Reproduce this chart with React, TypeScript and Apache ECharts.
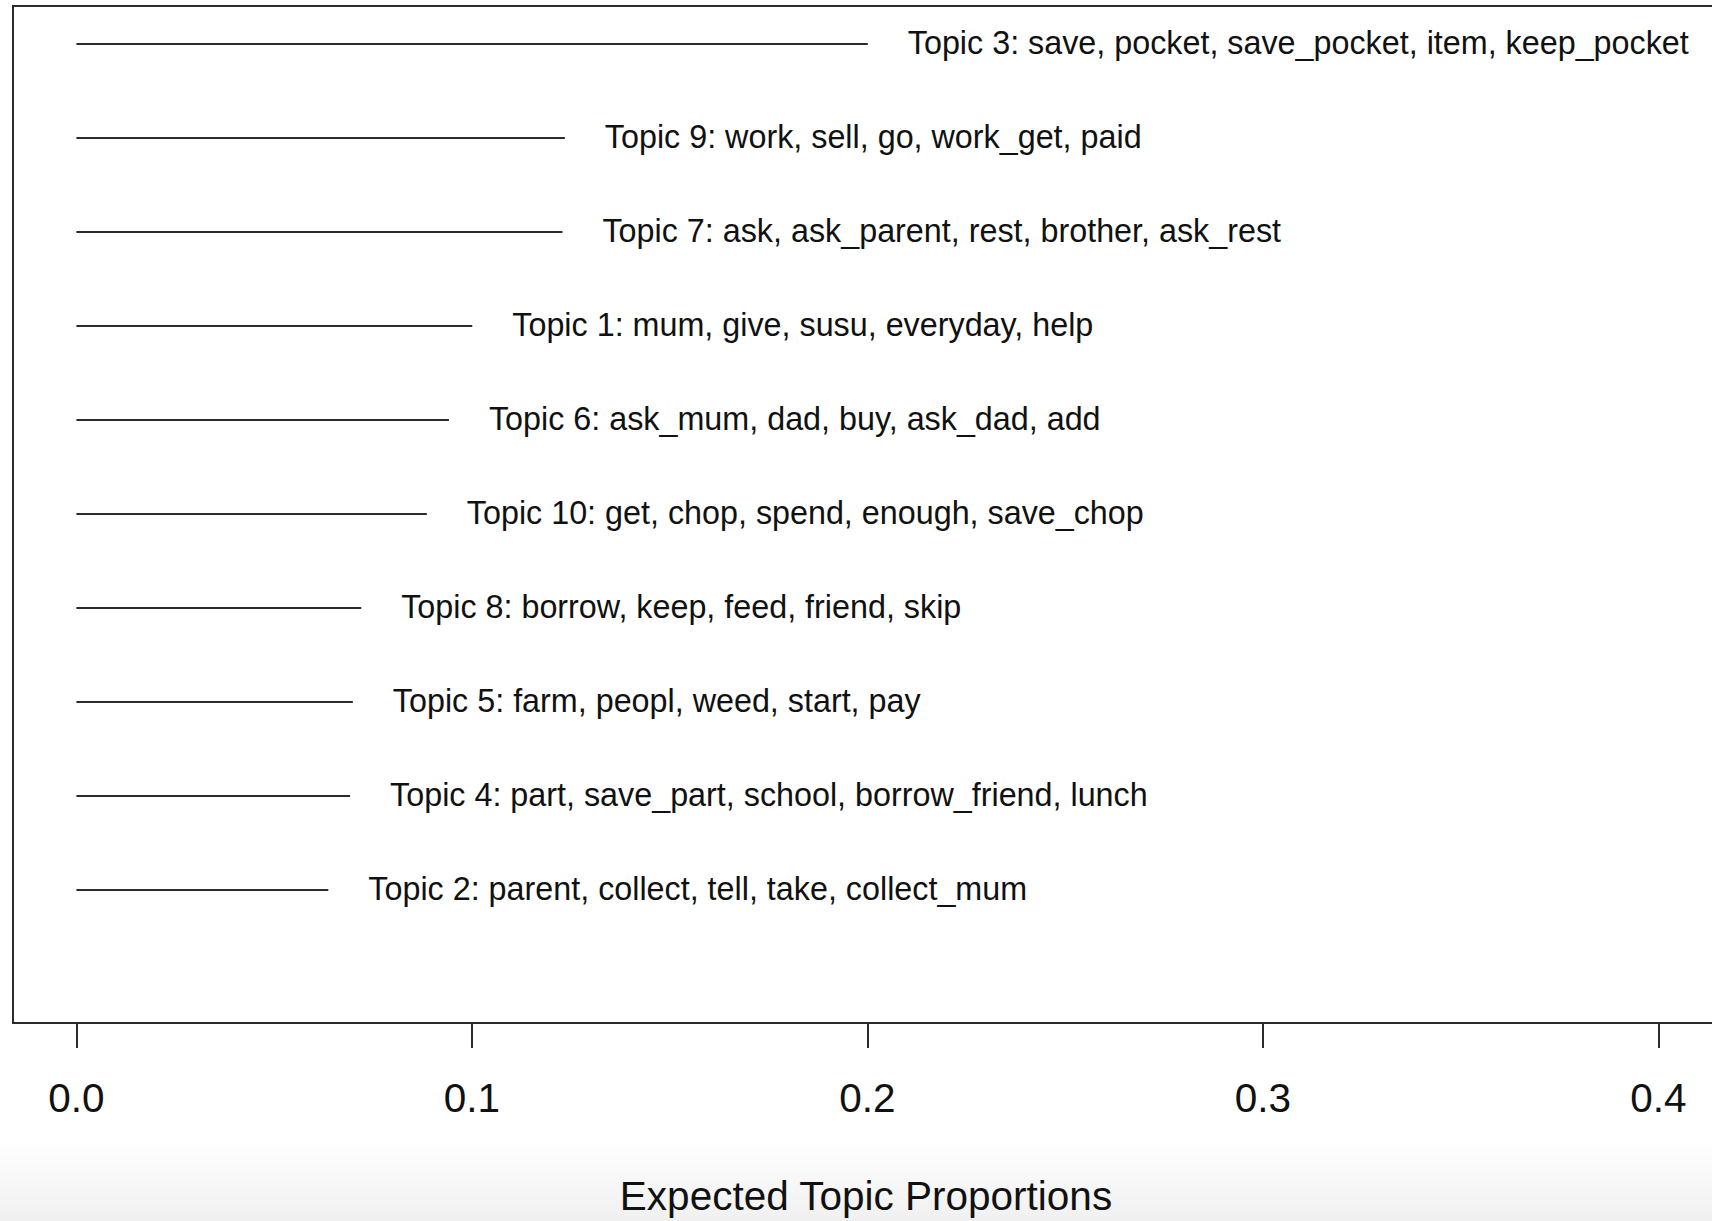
import React, { useEffect, useRef } from "react";
import * as echarts from "echarts";

// Topics ordered top to bottom
const topicLabels: string[] = [
  "Topic 3: save, pocket, save_pocket, item, keep_pocket",
  "Topic 9: work, sell, go, work_get, paid",
  "Topic 7: ask, ask_parent, rest, brother, ask_rest",
  "Topic 1: mum, give, susu, everyday, help",
  "Topic 6: ask_mum, dad, buy, ask_dad, add",
  "Topic 10: get, chop, spend, enough, save_chop",
  "Topic 8: borrow, keep, feed, friend, skip",
  "Topic 5: farm, peopl, weed, start, pay",
  "Topic 4: part, save_part, school, borrow_friend, lunch",
  "Topic 2: parent, collect, tell, take, collect_mum",
];

const proportions: number[] = [
  0.2001, 0.1235, 0.1229, 0.1001, 0.0942, 0.0886, 0.072, 0.0699, 0.0692, 0.0637,
];

const xTicks: number[] = [0, 0.1, 0.2, 0.3, 0.4];
const axisTitle = "Expected Topic Proportions";

const FONT = '"Liberation Sans", Arial, Helvetica, sans-serif';

export default function App() {
  const ref = useRef<HTMLDivElement>(null);

  useEffect(() => {
    if (!ref.current) return;
    const chart = echarts.init(ref.current, undefined, { renderer: "svg" });
    const n = topicLabels.length;
    const data = proportions.map((v, i) => [v, n - i]);

    chart.setOption({
      animation: false,
      backgroundColor: "#ffffff",
      graphic: [
        {
          type: "rect",
          z: -10,
          silent: true,
          shape: { x: 0, y: 1140, width: 1712, height: 81 },
          style: {
            fill: new echarts.graphic.LinearGradient(0, 0, 0, 1, [
              { offset: 0, color: "#ffffff" },
              { offset: 1, color: "#f0f0f0" },
            ]),
          },
        },
        {
          // plot frame (right edge lies outside the picture)
          type: "polyline",
          silent: true,
          z: 5,
          shape: { points: [[1730, 6], [13, 6], [13, 1023], [1730, 1023]] },
          style: { stroke: "#2b2b2b", lineWidth: 2, fill: null },
        },
      ],
      grid: {
        show: false,
        left: 13,
        top: 6,
        right: 0,
        bottom: 198,
      },
      xAxis: {
        type: "value",
        min: -0.01603,
        max: 0.41355,
        splitLine: { show: false },
        axisLine: { show: false, onZero: false },
        axisTick: {
          show: true,
          customValues: xTicks,
          length: 26,
          lineStyle: { color: "#2b2b2b", width: 2 },
        },
        axisLabel: {
          customValues: xTicks,
          formatter: (v: number) => v.toFixed(1),
          fontSize: 40.5,
          fontFamily: FONT,
          color: "#111",
          margin: 55,
        },
        name: axisTitle,
        nameLocation: "middle",
        nameGap: 153,
        nameTextStyle: {
          fontSize: 40.5,
          fontFamily: FONT,
          color: "#111",
          padding: [0, 0, 0, 7],
        },
      },
      yAxis: {
        type: "value",
        min: -0.403,
        max: 10.405,
        show: false,
        splitLine: { show: false },
      },
      series: [
        {
          type: "custom",
          clip: false,
          data,
          renderItem: (params: any, api: any) => {
            const v = api.value(0);
            const r = api.value(1);
            const p0 = api.coord([0, r]);
            const p1 = api.coord([v, r]);
            return {
              type: "group",
              children: [
                {
                  type: "line",
                  shape: { x1: p0[0], y1: p0[1], x2: p1[0], y2: p1[1] },
                  style: { stroke: "#2b2b2b", lineWidth: 2 },
                },
                {
                  type: "text",
                  x: p1[0] + 40,
                  y: p1[1] - 1,
                  style: {
                    text: topicLabels[params.dataIndex],
                    fontSize: 32.3,
                    fontFamily: FONT,
                    fill: "#111",
                    align: "left",
                    verticalAlign: "middle",
                  },
                },
              ],
            };
          },
        },
      ],
    });

    return () => chart.dispose();
  }, []);

  return (
    <div
      ref={ref}
      style={{ position: "absolute", left: 0, top: 0, width: 1712, height: 1221 }}
    />
  );
}
